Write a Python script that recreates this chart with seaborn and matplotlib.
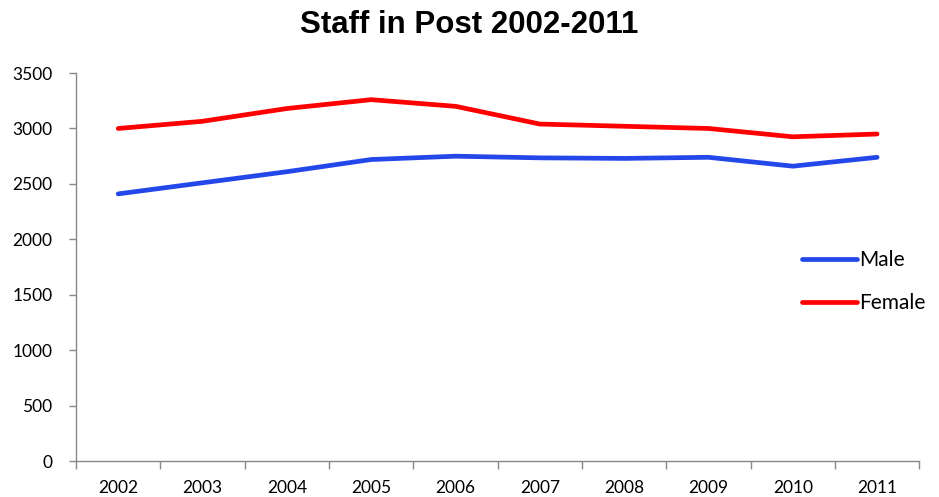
import numpy as np
import pandas as pd
import seaborn as sns
import matplotlib.pyplot as plt
import matplotlib.ticker as ticker

years = ['2002', '2003', '2004', '2005', '2006', '2007', '2008', '2009', '2010', '2011']
male = [2410, 2510, 2610, 2720, 2750, 2735, 2730, 2740, 2660, 2740]
female = [3000, 3065, 3180, 3260, 3200, 3040, 3020, 3000, 2925, 2950]

df = pd.DataFrame({
    'pos': list(range(len(years))) * 2,
    'staff': male + female,
    'sex': ['Male'] * len(years) + ['Female'] * len(years),
})

sns.set_style('white')
plt.rcParams['font.family'] = ['Lato', 'DejaVu Sans']
plt.rcParams['text.color'] = 'black'
plt.rcParams['xtick.color'] = 'black'
plt.rcParams['ytick.color'] = 'black'

fig = plt.figure(figsize=(9.39, 4.97), dpi=100)
ax = fig.add_axes([0.081, 0.0724, 0.898, 0.7806])

sns.lineplot(data=df, x='pos', y='staff', hue='sex',
             palette={'Male': '#2347E8', 'Female': '#FF0000'},
             linewidth=3.4, ax=ax, legend=True)

ax.set_xlim(-0.5, len(years) - 0.5)
ax.set_ylim(0, 3500)
ax.yaxis.set_major_locator(ticker.MultipleLocator(500))

# ticks between categories, labels in the middle
ax.set_xticks(np.arange(-0.5, len(years), 1.0))
ax.set_xticklabels([])
ax.set_xticks(np.arange(len(years)), minor=True)
ax.set_xticklabels(years, minor=True)
ax.tick_params(axis='x', which='major', length=6, width=1, color='#888888', direction='out', bottom=True)
ax.tick_params(axis='x', which='minor', length=0, pad=14, labelsize=12.5)
ax.tick_params(axis='y', length=5, width=1, color='#888888', direction='out', left=True,
               labelsize=12.5, pad=12)

for s in ['top', 'right']:
    ax.spines[s].set_visible(False)
for s in ['left', 'bottom']:
    ax.spines[s].set_color('#888888')
    ax.spines[s].set_linewidth(1)

ax.set_xlabel('')
ax.set_ylabel('')
fig.suptitle('Staff in Post 2002-2011', fontsize=22.5, fontweight='bold',
             family=['Liberation Sans', 'DejaVu Sans'], y=0.98)

leg = ax.legend(loc='upper left', bbox_to_anchor=(0.839, 0.592), frameon=False,
                handlelength=2.65, handletextpad=0.1, labelspacing=1.1, fontsize=15)
for line in leg.get_lines():
    line.set_linewidth(3.4)

plt.savefig('out.png', dpi=100)
